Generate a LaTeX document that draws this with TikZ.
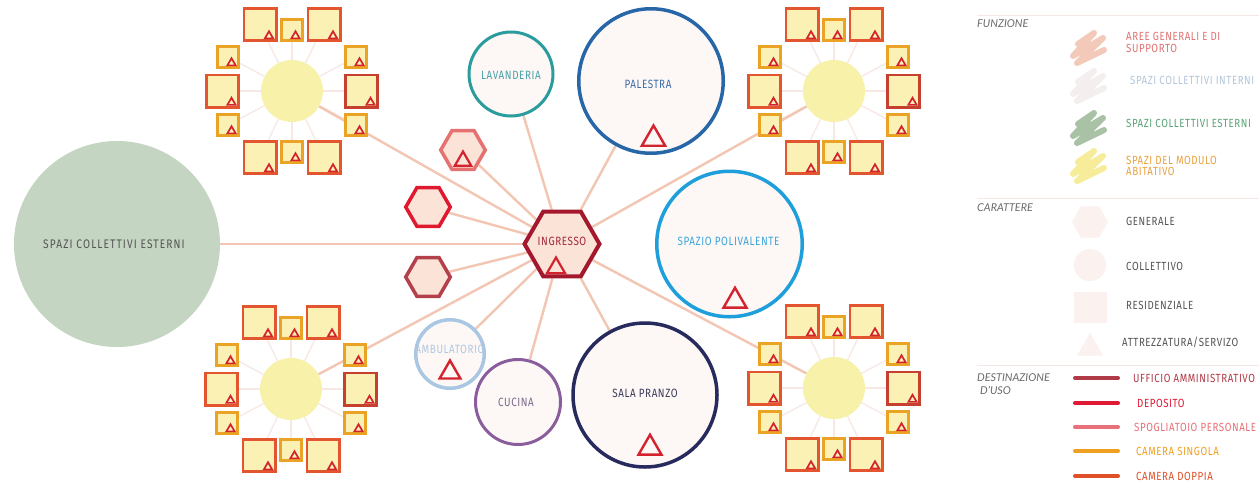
\documentclass[tikz,border=0pt]{standalone}
\usepackage{fontspec}
\setmainfont{Fira Sans}
\newfontfamily\lab[FakeStretch=0.82,LetterSpace=5]{Fira Sans}
\newfontfamily\head{Lato}
\usetikzlibrary{shapes.geometric}
\pgfdeclarelayer{paper}
\pgfdeclarelayer{bg}
\pgfsetlayers{paper,bg,main}
\definecolor{cdoppia}{HTML}{E2552E}
\definecolor{cdark}{HTML}{C5402F}
\definecolor{csingola}{HTML}{EBA325}
\definecolor{roomfill}{HTML}{FBF1B4}
\definecolor{hubfill}{HTML}{F8F1A9}
\definecolor{trired}{HTML}{D2232F}
\definecolor{spokec}{HTML}{F7E8E3}
\definecolor{connc}{HTML}{F2C6B2}
\definecolor{hexfill}{HTML}{FCE3D7}
\definecolor{ingc}{HTML}{A3182C}
\definecolor{spogc}{HTML}{E67171}
\definecolor{depc}{HTML}{DF1A30}
\definecolor{uffc}{HTML}{B3414B}
\definecolor{circfill}{HTML}{FDF7F6}
\definecolor{lavc}{HTML}{2A9C9E}
\definecolor{palc}{HTML}{2767A8}
\definecolor{polc}{HTML}{1E9FDC}
\definecolor{salc}{HTML}{272A5D}
\definecolor{cucc}{HTML}{8A5E9C}
\definecolor{ambc}{HTML}{A9C6E3}
\definecolor{extfill}{HTML}{C4D5C2}
\definecolor{legfill}{HTML}{FBF1EE}
\definecolor{sepc}{HTML}{F5E7E3}
\definecolor{headc}{HTML}{6A6A6A}
\definecolor{txtgray}{HTML}{555555}
\definecolor{lavt}{HTML}{4AA0A6}
\definecolor{palt}{HTML}{3C6EA8}
\definecolor{polt}{HTML}{3BA6DC}
\definecolor{salt}{HTML}{3A3A5A}
\definecolor{cuct}{HTML}{7A6A8A}
\definecolor{ambt}{HTML}{B0C8DF}
\definecolor{ingt}{HTML}{A02838}
\definecolor{l1t}{HTML}{E07272}
\definecolor{l2t}{HTML}{B5C6DA}
\definecolor{l3t}{HTML}{5AA377}
\definecolor{l4t}{HTML}{E9A23F}
\definecolor{s1}{HTML}{F3C9BA}
\definecolor{s2}{HTML}{F4EEEE}
\definecolor{s3}{HTML}{A9C2A6}
\definecolor{s4}{HTML}{F6EC9A}
\definecolor{d1}{HTML}{B03A48}
\definecolor{d2}{HTML}{E01A35}
\definecolor{d3}{HTML}{E87078}
\definecolor{d4}{HTML}{F0A020}
\definecolor{d5}{HTML}{E05028}
\newcommand{\clusterat}[3]{%
 \begin{scope}[shift={(#2,#3)}]
  \foreach \x/\y/\s/\c [count=\i] in {-32/-66.5/35/cdoppia, 0/-61/24/csingola, 32/-66.5/35/cdoppia, 64/-34/24/csingola, 69.5/0/35/cdark, 64/34/24/csingola, 32/66.5/35/cdoppia, 0/61/24/csingola, -32/66.5/35/cdoppia, -64/34/24/csingola, -69.5/0/35/cdoppia, -64/-34/24/csingola}{
    \node[room, draw=\c, minimum size=\s-2.6] (#1-b\i) at (\x,\y) {};
    \node[minitri] (#1-t\i) at (\x+\s/2-8.5, \y+\s/2-6) {};
  }
  \node[hub] (#1-c) at (0,0) {};
  \begin{pgfonlayer}{bg}
   \foreach \i in {1,...,12} \draw[spoke] (#1-c) -- (#1-b\i);
  \end{pgfonlayer}
 \end{scope}}
\newcommand{\scrib}[2]{%
 \draw[scribble, draw=#1, shift={(0,#2)}] (1078,44) -- (1094,33) -- (1073,56) -- (1103,38) -- (1077,63) -- (1104,50);}
\begin{document}
\begin{tikzpicture}[x=1pt,y=-1pt,
  room/.style={rectangle, fill=roomfill, line width=2.6, inner sep=0},
  hub/.style={circle, fill=hubfill, minimum size=62, inner sep=0},
  minitri/.style={regular polygon, regular polygon sides=3, draw=trired, line width=1.7, minimum size=9.5, inner sep=0},
  bigtri/.style={regular polygon, regular polygon sides=3, draw=trired, line width=2.4, inner sep=0},
  hexa/.style={regular polygon, regular polygon sides=6, fill=hexfill, inner sep=0},
  circ/.style={circle, fill=circfill, line width=3, inner sep=0},
  conn/.style={draw=connc, line width=2.4},
  spoke/.style={draw=spokec, line width=1.3},
  lbl/.style={font=\lab\fontsize{12}{14}\selectfont, inner sep=0},
  legtxt/.style={font=\lab\fontsize{11.8}{11.7}\selectfont, inner sep=0, anchor=west, align=left},
  headtxt/.style={font=\head\itshape\fontsize{10.8}{13.5}\selectfont, text=headc, inner sep=0, anchor=west, align=left},
  legline/.style={line width=4, line cap=round},
  scribble/.style={line width=6, line cap=round, line join=round},
  legshape/.style={fill=legfill, inner sep=0},
]
\useasboundingbox (0,0) rectangle (1259,483);
\begin{pgfonlayer}{paper}
\fill[white] (0,0) rectangle (1259,483);
\end{pgfonlayer}

% clusters
\clusterat{tl}{292}{91}
\clusterat{tr}{834}{91}
\clusterat{bl}{291}{389}
\clusterat{br}{834}{388}

% central nodes
\node[circle, fill=extfill, minimum size=206, inner sep=0] (ext) at (117,244) {};
\node[lbl, text=txtgray, font=\lab\fontsize{12.4}{14}\selectfont\addfontfeature{LetterSpace=9}] (extt) at (114,244) {SPAZI COLLETTIVI ESTERNI};

\node[hexa, draw=ingc, line width=4, minimum size=75] (ing) at (562,244) {};
\node[lbl, text=ingt] (ingl) at (562,241) {INGRESSO};
\node[bigtri, minimum size=21, line width=2.2] (ingtri) at (556,268) {};

\node[hexa, draw=spogc, line width=3.5, minimum size=44.5] (hx1) at (463,150) {};
\node[bigtri, minimum size=19, line width=2.2] (hx1t) at (463,161) {};
\node[hexa, draw=depc, line width=3.5, minimum size=44.5] (hx2) at (428,207) {};
\node[hexa, draw=uffc, line width=3.5, minimum size=44.5] (hx3) at (428,277) {};

\node[circ, draw=lavc, minimum size=84] (lav) at (511,74) {};
\node[lbl, text=lavt] (lavl) at (511,75) {LAVANDERIA};

\node[circ, draw=palc, line width=3.5, minimum size=144.5] (pal) at (651,81) {};
\node[lbl, text=palt] (pall) at (648,84) {PALESTRA};
\node[bigtri, minimum size=27] (palt) at (653.5,139) {};

\node[circ, draw=polc, line width=3.5, minimum size=145.5] (pol) at (729.5,244) {};
\node[lbl, text=polt] (poll) at (728.5,241) {SPAZIO POLIVALENTE};
\node[bigtri, minimum size=26.5] (polt) at (735,301) {};

\node[circ, draw=salc, line width=3.5, minimum size=144] (sal) at (645,395) {};
\node[lbl, text=salt] (sall) at (645,393) {SALA PRANZO};
\node[bigtri, minimum size=26.5] (salt) at (650,448) {};

\node[circ, draw=cucc, minimum size=85] (cuc) at (518,402) {};
\node[lbl, text=cuct] (cucl) at (516,402) {CUCINA};

\node[circ, draw=ambc, line width=3.5, minimum size=68.5] (amb) at (450,354) {};
\node[lbl, text=ambt] (ambl) at (450,349) {AMBULATORIO};
\node[bigtri, minimum size=24] (ambtri) at (450,372.5) {};

\begin{pgfonlayer}{bg}
 \foreach \t in {tl-c, bl-c, tr-c, br-c, hx1, hx2, hx3, ext, amb, cuc, sal, pal, lav}
   \draw[conn] (ing) -- (\t);
\end{pgfonlayer}

% legend
\draw[draw=sepc, line width=1] (977,15) -- (1259,15);
\draw[draw=sepc, line width=1] (977,198) -- (1259,198);
\draw[draw=sepc, line width=1] (977,365) -- (1259,365);

\node[headtxt] (h1) at (977,24) {FUNZIONE};
\scrib{s1}{0}
\scrib{s2}{38}
\scrib{s3}{80}
\scrib{s4}{118}
\node[legtxt, text=l1t] (f1) at (1126,42.5) {AREE GENERALI E DI\\SUPPORTO};
\node[legtxt, text=l2t] (f2) at (1130,80) {SPAZI COLLETTIVI INTERNI};
\node[legtxt, text=l3t] (f3) at (1126,123) {SPAZI COLLETTIVI ESTERNI};
\node[legtxt, text=l4t] (f4) at (1126,166) {SPAZI DEL MODULO\\ABITATIVO};

\node[headtxt] (h2) at (977,208) {CARATTERE};
\node[legshape, regular polygon, regular polygon sides=6, minimum size=36] (k1) at (1090,222) {};
\node[legshape, circle, minimum size=32] (k2) at (1090,265) {};
\node[legshape, rectangle, minimum width=33, minimum height=31] (k3) at (1090,307) {};
\node[legshape, regular polygon, regular polygon sides=3, minimum size=30] (k4) at (1090,348) {};
\node[legtxt, text=txtgray] (c1) at (1126,221) {GENERALE};
\node[legtxt, text=txtgray] (c2) at (1126,266) {COLLETTIVO};
\node[legtxt, text=txtgray] (c3) at (1126,305) {RESIDENZIALE};
\node[legtxt, text=txtgray] (c4) at (1122,342) {ATTREZZATURA/SERVIZO};

\node[headtxt] (h3) at (977,384) {DESTINAZIONE\\\hspace*{3pt}D’USO};
\draw[legline, draw=d1] (1075,378) -- (1118,378);
\draw[legline, draw=d2] (1075,403) -- (1118,403);
\draw[legline, draw=d3] (1075,427) -- (1118,427);
\draw[legline, draw=d4] (1075,451) -- (1118,451);
\draw[legline, draw=d5] (1075,476) -- (1118,476);
\node[legtxt, text=d1] (u1) at (1133,378) {UFFICIO AMMINISTRATIVO};
\node[legtxt, text=d2] (u2) at (1137,403) {DEPOSITO};
\node[legtxt, text=d3] (u3) at (1134,427) {SPOGLIATOIO PERSONALE};
\node[legtxt, text=d4] (u4) at (1136,451) {CAMERA SINGOLA};
\node[legtxt, text=d5] (u5) at (1136,476) {CAMERA DOPPIA};
\end{tikzpicture}
\end{document}
